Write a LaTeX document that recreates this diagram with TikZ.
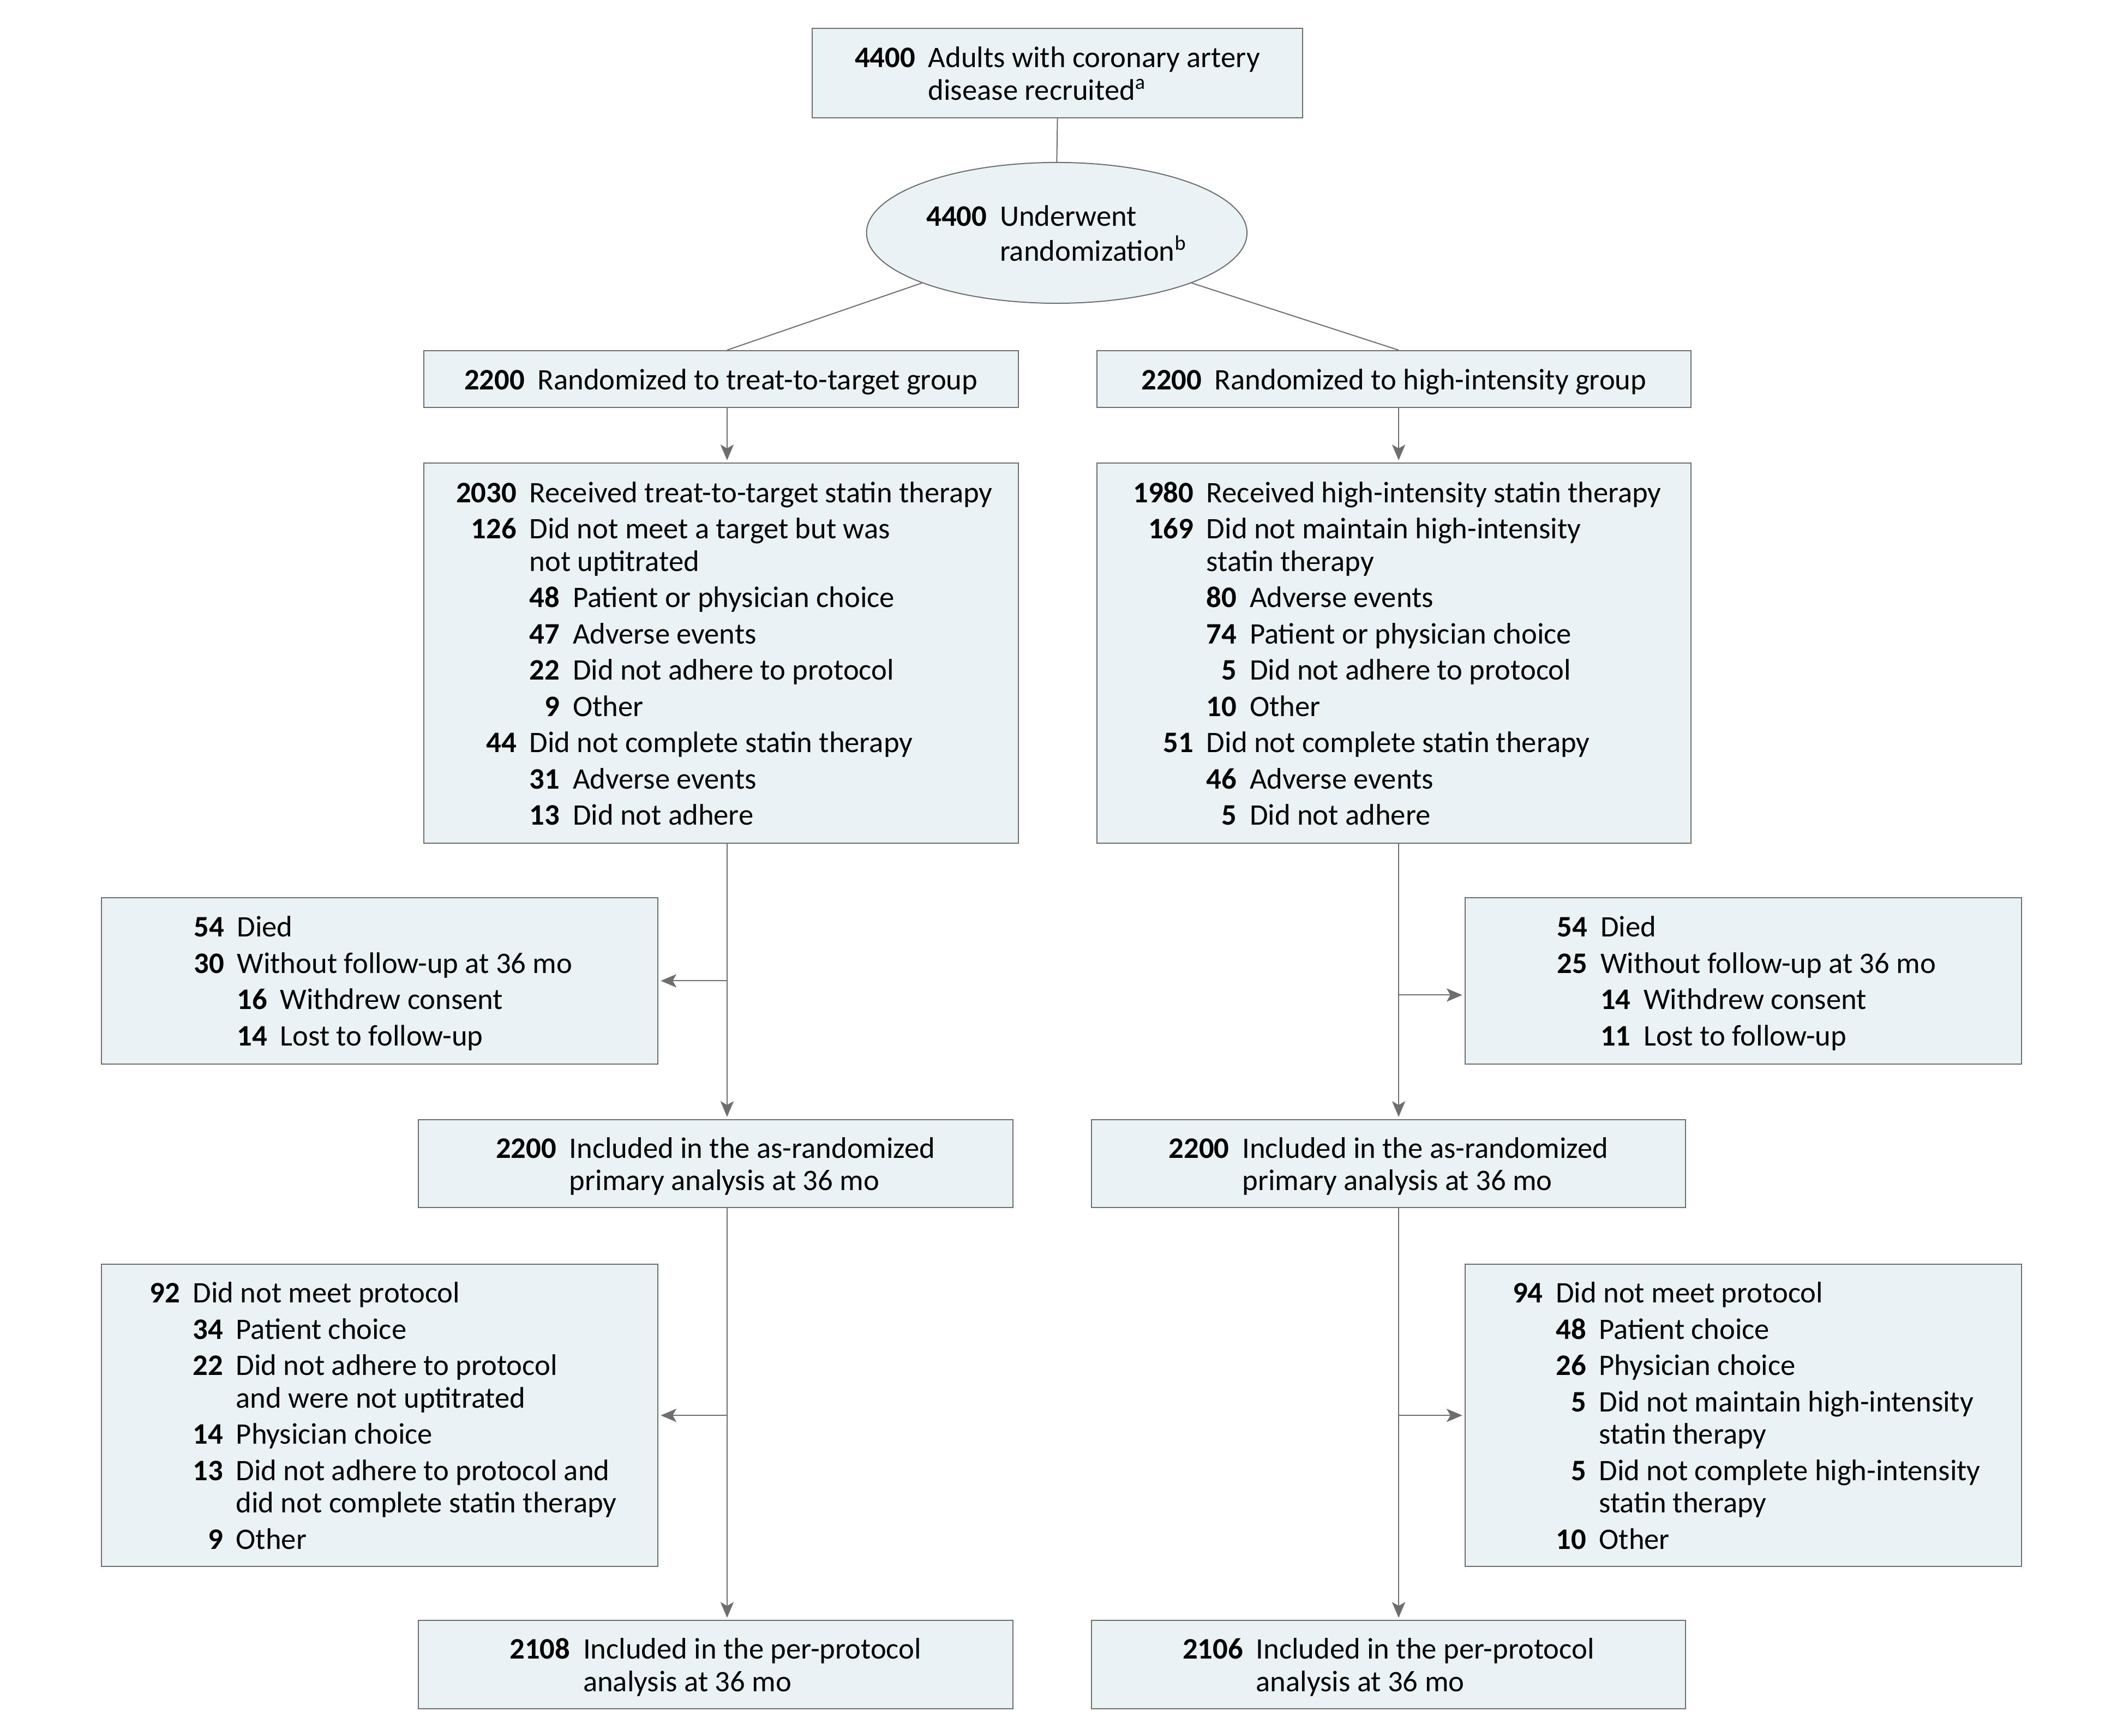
\documentclass[tikz,border=0pt]{standalone}
\usepackage{fontspec}
\setmainfont{Carlito}
\usetikzlibrary{shapes.geometric,arrows.meta}
\definecolor{boxfill}{RGB}{233,243,245}
\definecolor{boxline}{RGB}{110,110,110}
\newcommand{\nb}[1]{\textbf{#1}}
\newcommand{\ml}[1]{\multicolumn{2}{@{}l@{}}{#1}}
\newcommand{\nl}{\\[1.4pt]}
\newcommand{\topstrut}{\rule{0pt}{11.4pt}}
\newenvironment{flowtab}{\begin{tabular}{@{}r@{\hspace{4.8pt}}r@{\hspace{4.8pt}}l@{}}\topstrut}{\end{tabular}}
\newenvironment{simptab}{\begin{tabular}{@{}r@{\hspace{4.8pt}}l@{}}\topstrut}{\end{tabular}}
\tikzset{
  fbox/.style={draw=boxline, fill=boxfill, line width=0.4pt, inner sep=0pt, align=left,
    font=\fontsize{11}{12}\selectfont},
  conn/.style={draw=boxline, line width=0.4pt},
  arr/.style={conn, -{Stealth[length=5.8pt,width=4.9pt,inset=1.4pt]}, shorten >=0.8pt},
}
\begin{document}
\begin{tikzpicture}[x=0.5pt,y=-0.5pt]
\useasboundingbox (0,0) rectangle (1568,1282);
\coordinate (xL) at (537,0);
\coordinate (xR) at (1033,0);

\node[fbox, minimum width=181pt, minimum height=33pt] (top) at (781,54)
 {\begin{simptab}\nb{4400} & Adults with coronary artery\\ & disease recruited\textsuperscript{a}\end{simptab}};

\node[fbox, ellipse, minimum width=140.5pt, minimum height=52pt] (rand) at (780.5,172)
 {\begin{simptab}\nb{4400} & Underwent\\ & randomization\textsuperscript{b}\end{simptab}};

\node[fbox, minimum width=219.5pt, minimum height=21pt] (L1) at (532.5,280)
 {\begin{simptab}\nb{2200} & Randomized to treat-to-target group\end{simptab}};
\node[fbox, minimum width=219.5pt, minimum height=21pt] (R1) at (1029.5,280)
 {\begin{simptab}\nb{2200} & Randomized to high-intensity group\end{simptab}};

\node[fbox, minimum width=219.5pt, minimum height=140.5pt] (L2) at (532.5,482.5)
 {\begin{flowtab}
 \nb{2030} & \ml{Received treat-to-target statin therapy}\nl
 \nb{126} & \ml{Did not meet a target but was}\\
  & \ml{not uptitrated}\nl
  & \nb{48} & Patient or physician choice\nl
  & \nb{47} & Adverse events\nl
  & \nb{22} & Did not adhere to protocol\nl
  & \nb{9} & Other\nl
 \nb{44} & \ml{Did not complete statin therapy}\nl
  & \nb{31} & Adverse events\nl
  & \nb{13} & Did not adhere
 \end{flowtab}};
\node[fbox, minimum width=219.5pt, minimum height=140.5pt] (R2) at (1029.5,482.5)
 {\begin{flowtab}
 \nb{1980} & \ml{Received high-intensity statin therapy}\nl
 \nb{169} & \ml{Did not maintain high-intensity}\\
  & \ml{statin therapy}\nl
  & \nb{80} & Adverse events\nl
  & \nb{74} & Patient or physician choice\nl
  & \nb{5} & Did not adhere to protocol\nl
  & \nb{10} & Other\nl
 \nb{51} & \ml{Did not complete statin therapy}\nl
  & \nb{46} & Adverse events\nl
  & \nb{5} & Did not adhere
 \end{flowtab}};

\node[fbox, minimum width=205.5pt, minimum height=61.5pt] (L3) at (280.5,724.5)
 {\begin{flowtab}
 \nb{54} & \ml{Died}\nl
 \nb{30} & \ml{Without follow-up at 36 mo}\nl
  & \nb{16} & Withdrew consent\nl
  & \nb{14} & Lost to follow-up
 \end{flowtab}};
\node[fbox, minimum width=205.5pt, minimum height=61.5pt] (R3) at (1287.5,724.5)
 {\begin{flowtab}
 \nb{54} & \ml{Died}\nl
 \nb{25} & \ml{Without follow-up at 36 mo}\nl
  & \nb{14} & Withdrew consent\nl
  & \nb{11} & Lost to follow-up
 \end{flowtab}};

\node[fbox, minimum width=219.5pt, minimum height=32.5pt] (L4) at (528.5,859.5)
 {\begin{simptab}\nb{2200} & Included in the as-randomized\\ & primary analysis at 36 mo\end{simptab}};
\node[fbox, minimum width=219.5pt, minimum height=32.5pt] (R4) at (1025.5,859.5)
 {\begin{simptab}\nb{2200} & Included in the as-randomized\\ & primary analysis at 36 mo\end{simptab}};

\node[fbox, minimum width=205.5pt, minimum height=111.5pt] (L5) at (280.5,1045.5)
 {\begin{flowtab}
 \nb{92} & \ml{Did not meet protocol}\nl
  & \nb{34} & Patient choice\nl
  & \nb{22} & Did not adhere to protocol\\
  & & and were not uptitrated\nl
  & \nb{14} & Physician choice\nl
  & \nb{13} & Did not adhere to protocol and\\
  & & did not complete statin therapy\nl
  & \nb{9} & Other
 \end{flowtab}};
\node[fbox, minimum width=205.5pt, minimum height=111.5pt] (R5) at (1287.5,1045.5)
 {\begin{flowtab}
 \nb{94} & \ml{Did not meet protocol}\nl
  & \nb{48} & Patient choice\nl
  & \nb{26} & Physician choice\nl
  & \nb{5} & Did not maintain high-intensity\\
  & & statin therapy\nl
  & \nb{5} & Did not complete high-intensity\\
  & & statin therapy\nl
  & \nb{10} & Other
 \end{flowtab}};

\node[fbox, minimum width=219.5pt, minimum height=32.5pt] (L6) at (528.5,1229.5)
 {\begin{simptab}\nb{2108} & Included in the per-protocol\\ & analysis at 36 mo\end{simptab}};
\node[fbox, minimum width=219.5pt, minimum height=32.5pt] (R6) at (1025.5,1229.5)
 {\begin{simptab}\nb{2106} & Included in the per-protocol\\ & analysis at 36 mo\end{simptab}};

% connectors
\draw[conn] (top.south) -- (rand.north);
\draw[conn] (rand.south west) -- (L1.north -| xL);
\draw[conn] (rand.south east) -- (R1.north -| xR);
\draw[arr] (L1.south -| xL) -- (L2.north -| xL);
\draw[arr] (R1.south -| xR) -- (R2.north -| xR);
\draw[arr] (L2.south -| xL) -- (L4.north -| xL);
\draw[arr] (R2.south -| xR) -- (R4.north -| xR);
\draw[arr] (L3.east -| xL) -- (L3.east);
\coordinate (bR1) at (1033,735);
\draw[arr] (bR1) -- (bR1 -| R3.west);
\draw[arr] (L4.south -| xL) -- (L6.north -| xL);
\draw[arr] (R4.south -| xR) -- (R6.north -| xR);
\draw[arr] (L5.east -| xL) -- (L5.east);
\draw[arr] (R5.west -| xR) -- (R5.west);
\end{tikzpicture}
\end{document}
